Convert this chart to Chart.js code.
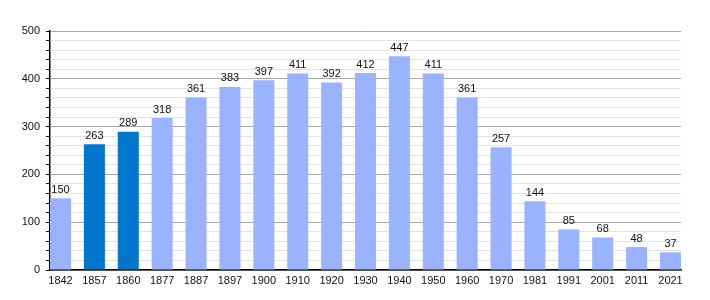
<!DOCTYPE html>
<html>
<head>
<meta charset="utf-8">
<script src="https://cdn.jsdelivr.net/npm/chart.js@4"></script>
<style>
  html, body { margin: 0; padding: 0; background: #fff; }
  #wrap { width: 710px; height: 300px; }
</style>
</head>
<body>
<div id="wrap"><canvas id="chart" width="710" height="300"></canvas></div>
<script>
  const years = ['1842', '1857', '1860', '1877', '1887', '1897', '1900', '1910', '1920', '1930',
                 '1940', '1950', '1960', '1970', '1981', '1991', '2001', '2011', '2021'];
  const population = [150, 263, 289, 318, 361, 383, 397, 411, 392, 412,
                      447, 411, 361, 257, 144, 85, 68, 48, 37];
  const highlighted = ['1857', '1860'];
  const yTicks = [0, 100, 200, 300, 400, 500];

  const LIGHT = '#99b3ff';
  const DARK = '#0077cc';

  /* values written above each bar */
  const barLabels = {
    id: 'barLabels',
    afterDatasetsDraw(chart) {
      const ctx = chart.ctx;
      const meta = chart.getDatasetMeta(0);
      ctx.save();
      ctx.font = '11px "Liberation Sans", Arial, sans-serif';
      ctx.fillStyle = '#111';
      ctx.textAlign = 'center';
      ctx.textBaseline = 'bottom';
      meta.data.forEach((bar, i) => {
        ctx.fillText(String(population[i]), bar.x, bar.y - 3);
      });
      ctx.restore();
    }
  };

  new Chart(document.getElementById('chart'), {
    type: 'bar',
    data: {
      datasets: [{
        data: years.map((y, i) => ({ x: i, y: population[i] })),
        backgroundColor: years.map(y => highlighted.includes(y) ? DARK : LIGHT),
        borderWidth: 0,
        barPercentage: 0.62,
        categoryPercentage: 1
      }]
    },
    options: {
      responsive: false,
      animation: false,
      layout: { padding: { top: 31, right: 29, left: 0, bottom: 0 } },
      plugins: { legend: { display: false }, tooltip: { enabled: false } },
      scales: {
        x: {
          type: 'linear',
          offset: false,
          min: -0.31,
          max: years.length - 1 + 0.31,
          afterBuildTicks(scale) {
            scale.ticks = years.map((y, i) => ({ value: i }));
          },
          afterFit(scale) { scale.height = 30; },
          grid: { display: false, drawTicks: false, offset: false },
          border: { display: true, color: '#000', width: 1.5 },
          ticks: {
            autoSkip: false,
            maxRotation: 0,
            padding: 4,
            color: '#111',
            font: { family: '"Liberation Sans", Arial, sans-serif', size: 11 },
            callback: (v) => years[v]
          }
        },
        y: {
          min: 0,
          max: 500,
          afterBuildTicks(scale) {
            const t = [];
            for (let v = 0; v <= 500; v += 20) t.push({ value: v });
            scale.ticks = t;
          },
          afterFit(scale) { scale.width = 50; },
          grid: {
            color: (c) => (c.tick && c.tick.value % 100 === 0) ? '#a8a8a8' : '#e2e2e2',
            tickColor: '#000',
            tickLength: 4,
            lineWidth: 1
          },
          border: { display: true, color: '#000', width: 1.5 },
          ticks: {
            autoSkip: false,
            padding: 6,
            color: '#111',
            font: { family: '"Liberation Sans", Arial, sans-serif', size: 11 },
            callback: (v) => yTicks.includes(v) ? String(v) : ''
          }
        }
      }
    },
    plugins: [barLabels]
  });
</script>
</body>
</html>
